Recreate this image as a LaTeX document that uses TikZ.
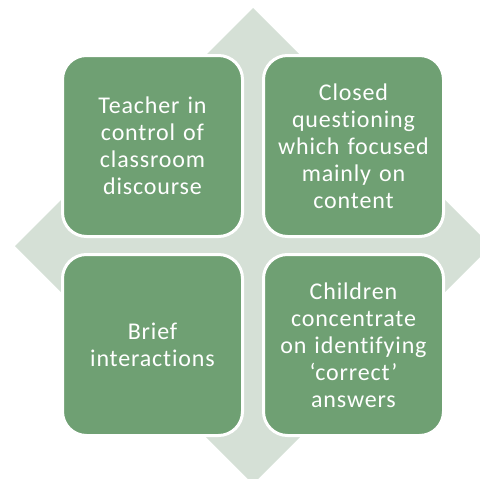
\documentclass[tikz,border=0pt]{standalone}
\usepackage{fontspec}
\setmainfont{Carlito}[LetterSpace=3.5,WordSpace=0.55,Ligatures={NoCommon,NoRequired}]
\definecolor{boxgreen}{HTML}{6FA073}
\definecolor{diamondgrey}{HTML}{D5E0D6}
\begin{document}
\begin{tikzpicture}[x=1pt,y=-1pt,
  card/.style={draw=white,line width=3pt,fill=boxgreen,rounded corners=24pt,
    minimum width=180pt,minimum height=181pt,inner sep=0pt,anchor=center,
    text=white,align=center,text width=176pt,
    font=\fontsize{24pt}{27pt}\selectfont}]
\useasboundingbox (0,0) rectangle (480,479);
\fill[diamondgrey] (253,8) -- (491,246) -- (253,484) -- (15,246) -- cycle;
\node[card] (tl) at (152.5,146) {Teacher in\\control of\\classroom\\discourse};
\node[card] (tr) at (353.5,146) {Closed\\questioning\\which focused\\mainly on\\content};
\node[card] (bl) at (152.5,345) {Brief\\interactions};
\node[card] (br) at (353.5,345) {Children\\concentrate\\on identifying\\‘correct’\\answers};
\end{tikzpicture}
\end{document}
